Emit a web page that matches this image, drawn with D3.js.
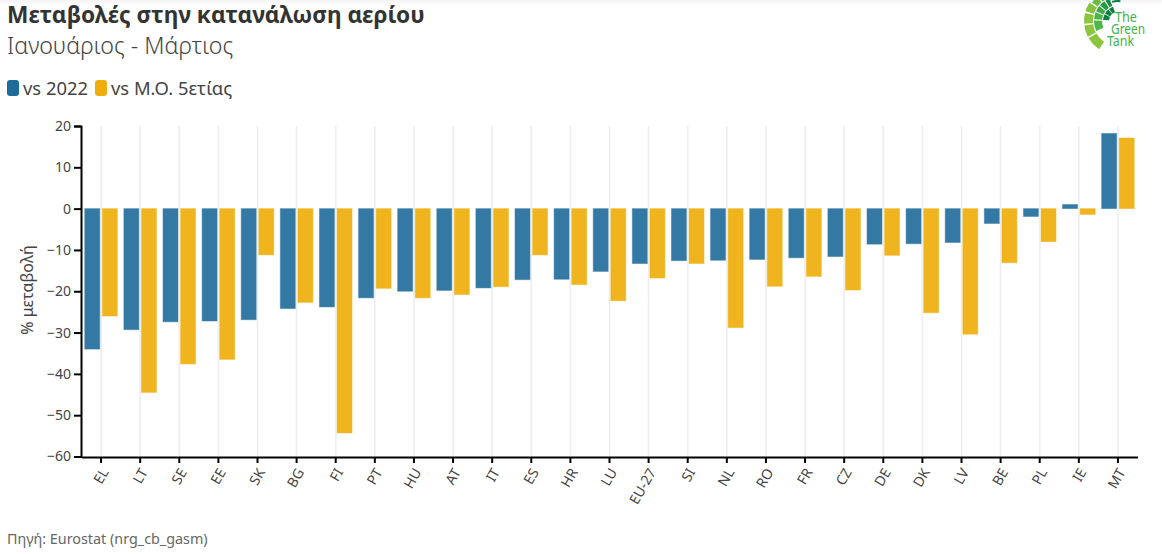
<!DOCTYPE html>
<html>
<head>
<meta charset="utf-8">
<script src="https://cdn.jsdelivr.net/npm/d3@7"></script>
<style>
    html, body { margin: 0; padding: 0; background: #fff; }
    text { font-family: "Noto Sans", sans-serif; }
</style>
</head>
<body>
<div id="chart"></div>
<script>
// data
const countries = ['EL','LT','SE','EE','SK','BG','FI','PT','HU','AT','IT','ES','HR','LU','EU-27','SI','NL','RO','FR','CZ','DE','DK','LV','BE','PL','IE','MT']
const vs2022 = [-34,-29.3,-27.4,-27.2,-26.9,-24.2,-23.8,-21.6,-20,-19.8,-19.2,-17.2,-17.1,-15.2,-13.3,-12.6,-12.5,-12.3,-11.9,-11.6,-8.6,-8.5,-8.2,-3.6,-1.9,1,18.2]
const vsAvg = [-26,-44.5,-37.6,-36.5,-11.2,-22.7,-54.3,-19.3,-21.6,-20.8,-18.9,-11.2,-18.4,-22.3,-16.8,-13.3,-28.8,-18.8,-16.4,-19.7,-11.3,-25.2,-30.4,-13.1,-8,-1.4,17.1]
const yTicks = [20,10,0,-10,-20,-30,-40,-50,-60]
const legendLabels = ['vs 2022','vs Μ.Ο. 5ετίας']
const colors = ['#3479a3','#f0b41f']
const legendColors = ['#1f6c9b','#efae0b']

const width = 1162, height = 554
const svg = d3.select('#chart').append('svg')
    .attr('width', width)
    .attr('height', height)
    .style('display', 'block')

// faint shade along the top edge
const grad = svg.append('defs').append('linearGradient')
    .attr('id', 'topShade').attr('x1', 0).attr('x2', 0).attr('y1', 0).attr('y2', 1)
grad.append('stop').attr('offset', 0).attr('stop-color', '#f4f4f4')
grad.append('stop').attr('offset', 1).attr('stop-color', '#fff')
svg.append('rect').attr('width', width).attr('height', 6).attr('fill', 'url(#topShade)')

// titles
svg.append('text').attr('x', 7).attr('y', 23)
    .attr('font-size', 22.7).attr('font-weight', 700).attr('fill', '#333')
    .text('Μεταβολές στην κατανάλωση αερίου')
svg.append('text').attr('x', 7).attr('y', 54)
    .attr('font-size', 23.2).attr('font-weight', 300).attr('fill', '#444')
    .text('Ιανουάριος - Μάρτιος')

// legend
let legendX = [7, 95]
legendLabels.forEach((d, i) => {
    svg.append('rect').attr('x', legendX[i]).attr('y', 80).attr('width', 12).attr('height', 16)
        .attr('rx', 3).attr('fill', legendColors[i])
    svg.append('text').attr('x', legendX[i] + 16).attr('y', 95)
        .attr('font-size', 18.4).attr('fill', '#444').text(d)
})

// scales
const x = d3.scaleBand().domain(countries).range([81.5, 1137.5])
const y = d3.scaleLinear().domain([-60, 20]).range([456.5, 126])

// grid
svg.append('g').selectAll('line').data(countries).enter().append('line')
    .attr('x1', d => x(d) + x.bandwidth() / 2)
    .attr('x2', d => x(d) + x.bandwidth() / 2)
    .attr('y1', y(20)).attr('y2', y(-60))
    .attr('stroke', '#eee').attr('stroke-width', 1.6)

// bars
const series = [vs2022, vsAvg]
const barW = 15, barGap = 1.3
series.forEach((vals, s) => {
    svg.append('g').selectAll('rect').data(vals).enter().append('rect')
        .attr('x', (d, i) => x(countries[i]) + x.bandwidth() / 2 + (s == 0 ? -barGap - barW : barGap))
        .attr('y', d => y(Math.max(d, 0)))
        .attr('width', barW)
        .attr('height', d => Math.abs(y(d) - y(0)))
        .attr('fill', colors[s])
        .attr('stroke', colors[s]).attr('stroke-opacity', 0.45).attr('stroke-width', 1)
})

// axes
const yAxis = svg.append('g').attr('transform', 'translate(81,0)')
    .call(d3.axisLeft(y).tickValues(yTicks).tickSize(7).tickPadding(3))
yAxis.select('.domain').attr('stroke', '#000').attr('stroke-width', 2)
yAxis.selectAll('line').attr('stroke', '#000').attr('stroke-width', 2)
yAxis.selectAll('text').attr('font-size', 14).attr('fill', '#444').style('font-family', '"Noto Sans", sans-serif')

const xAxis = svg.append('g').attr('transform', 'translate(0,457)')
    .call(d3.axisBottom(x).tickSize(6).tickSizeOuter(0))
xAxis.select('.domain').attr('stroke', '#000').attr('stroke-width', 2)
xAxis.selectAll('line').attr('stroke', '#000').attr('stroke-width', 2)
xAxis.selectAll('text')
    .attr('font-size', 14).attr('fill', '#444')
    .style('font-family', '"Noto Sans", sans-serif')
    .attr('text-anchor', 'end').attr('dy', 0).attr('y', 0)
    .attr('transform', 'translate(8,15) rotate(-60)')

svg.append('text')
    .attr('transform', 'translate(33,290) rotate(-90)')
    .attr('text-anchor', 'middle')
    .attr('font-size', 16).attr('fill', '#444')
    .text('% μεταβολή')

// source
svg.append('text').attr('x', 7).attr('y', 544)
    .attr('font-size', 14.35).attr('fill', '#666')
    .text('Πηγή: Eurostat (nrg_cb_gasm)')

// logo, a fan of cells round one centre
const logo = svg.append('g').attr('transform', 'translate(1118,21)')
const arc = d3.arc()
const logoCells = [
    [25,34,-2.55,-2.1,'#8cc63f'],[25,34,-2.05,-1.7,'#8cc63f'],[25,34,-1.65,-1.33,'#8cc63f'],[25,34,-1.28,-1.0,'#86c440'],
    [25,32,-0.95,-0.72,'#6dbb45'],[25,30,-0.67,-0.46,'#3fa94a'],
    [16,24,-2.0,-1.55,'#4cb748'],[16,24,-1.5,-1.2,'#4cb748'],[16,24,-1.15,-0.9,'#3fa94a'],[16,24,-0.85,-0.6,'#2b9a48'],[16,24,-0.55,-0.36,'#1d8a44'],
    [9,15,-1.5,-1.1,'#0f7d3f'],[9,15,-1.05,-0.7,'#0f7d3f'],[9,15,-0.65,-0.34,'#0f7d3f'],
    [26,28,-0.4,0.15,'#2b9a48'],[19,21,-0.3,0.12,'#0f7d3f']
]
logo.selectAll('path').data(logoCells).enter().append('path')
    .attr('d', d => arc({innerRadius: d[0], outerRadius: d[1], startAngle: d[2], endAngle: d[3]}))
    .attr('fill', d => d[4])
// word, left edge, baseline, width
const logoWords = [['The',1115,22,22],['Green',1111,34,34],['Tank',1107,46,27]]
logoWords.forEach(d => {
    svg.append('text').attr('x', d[1]).attr('y', d[2])
        .attr('font-size', 13.5).attr('fill', '#3eb24b')
        .attr('textLength', d[3]).attr('lengthAdjust', 'spacingAndGlyphs')
        .text(d[0])
})
</script>
</body>
</html>
